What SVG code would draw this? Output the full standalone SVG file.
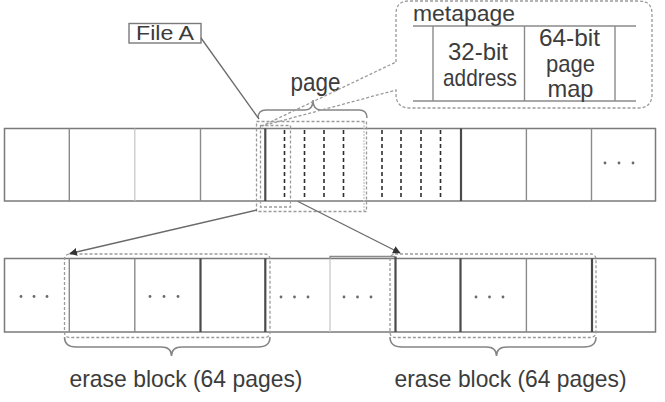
<svg xmlns="http://www.w3.org/2000/svg" width="665" height="402" viewBox="0 0 665 402">
<defs>
<style>
.t{font-family:"Liberation Sans",Arial,sans-serif;fill:#3c3c3c}
.cell{fill:#fff;stroke:#7a7a7a;stroke-width:1.5}
.div{stroke:#8a8a8a;stroke-width:1.4}
.lt{stroke:#c4c4c4;stroke-width:1.2}
.thk{stroke:#4a4a4a;stroke-width:2.2}
.pg{stroke:#2e2e2e;stroke-width:1.6;stroke-dasharray:4 3}
.dsh{fill:none;stroke:#9a9a9a;stroke-width:1.3;stroke-dasharray:3 2}
.br{fill:none;stroke:#858585;stroke-width:1.5}
.ln{stroke:#6a6a6a;stroke-width:1.3;fill:none}
.dot{fill:#6a6a6a}
</style>
<marker id="ah" viewBox="0 0 10 10" refX="9" refY="5" markerWidth="6" markerHeight="6" orient="auto">
<path d="M0,0 L10,5 L0,10 z" fill="#333"/>
</marker>
</defs>
<rect width="665" height="402" fill="#fff"/>

<g id="file-a">
<rect x="129" y="23.5" width="72" height="19.5" fill="#fff" stroke="#7a7a7a" stroke-width="1.4"/>
<text class="t" x="136" y="40" font-size="21" textLength="58" lengthAdjust="spacingAndGlyphs">File A</text>
</g>

<g id="page-label">
<path class="br" d="M258,118 Q258,110 266,110 H305 Q313,110 313,100 Q313,110 321,110 H359 Q367,110 367,118"/>
<text class="t" x="290.5" y="91" font-size="25" textLength="50" lengthAdjust="spacingAndGlyphs">page</text>
</g>

<g id="metapage">
<line class="div" x1="413" y1="26" x2="636" y2="26"/>
<line class="div" x1="413" y1="101" x2="636" y2="101"/>
<line class="div" x1="433" y1="26" x2="433" y2="101"/>
<line class="div" x1="524.5" y1="26" x2="524.5" y2="101"/>
<line class="div" x1="615" y1="26" x2="615" y2="101"/>
<text class="t" x="413" y="20.5" font-size="22" textLength="102" lengthAdjust="spacingAndGlyphs">metapage</text>
<text class="t" x="478" y="60" font-size="24" text-anchor="middle" textLength="60" lengthAdjust="spacingAndGlyphs">32-bit</text>
<text class="t" x="480" y="85.5" font-size="24" text-anchor="middle" textLength="74" lengthAdjust="spacingAndGlyphs">address</text>
<text class="t" x="569.5" y="45.5" font-size="24" text-anchor="middle" textLength="61" lengthAdjust="spacingAndGlyphs">64-bit</text>
<text class="t" x="570.5" y="72" font-size="24" text-anchor="middle" textLength="49" lengthAdjust="spacingAndGlyphs">page</text>
<text class="t" x="570.5" y="97" font-size="24" text-anchor="middle" textLength="46" lengthAdjust="spacingAndGlyphs">map</text>
</g>

<g id="top-row">
<rect class="cell" x="4.5" y="128.5" width="651" height="72.5"/>
<line class="div" x1="69.3" y1="128.5" x2="69.3" y2="201"/>
<line class="lt" x1="134.8" y1="128.5" x2="134.8" y2="201"/>
<line class="div" x1="200.5" y1="128.5" x2="200.5" y2="201"/>
<line class="thk" x1="265.3" y1="128.5" x2="265.3" y2="201"/>
<line class="thk" x1="461" y1="128.5" x2="461" y2="201"/>
<line class="div" x1="526.4" y1="128.5" x2="526.4" y2="201"/>
<line class="div" x1="591.5" y1="128.5" x2="591.5" y2="201"/>
<line class="pg" x1="284.5" y1="130" x2="284.5" y2="200"/>
<line class="pg" x1="304.5" y1="130" x2="304.5" y2="200"/>
<line class="pg" x1="324" y1="130" x2="324" y2="200"/>
<line class="pg" x1="343.5" y1="130" x2="343.5" y2="200"/>
<line class="lt" x1="364" y1="122" x2="364" y2="211" stroke-dasharray="2 1"/>
<line class="pg" x1="382" y1="130" x2="382" y2="200"/>
<line class="pg" x1="401" y1="130" x2="401" y2="200"/>
<line class="pg" x1="421" y1="130" x2="421" y2="200"/>
<line class="pg" x1="440.5" y1="130" x2="440.5" y2="200"/>
<circle class="dot" cx="605" cy="163" r="1.4"/>
<circle class="dot" cx="619" cy="163" r="1.4"/>
<circle class="dot" cx="633" cy="163" r="1.4"/>
<rect class="dsh" x="256.5" y="121.5" width="110" height="90"/>
<rect class="dsh" x="260.5" y="125.5" width="30" height="81.5"/>
</g>

<g id="bottom-row">
<rect class="cell" x="4.5" y="258.5" width="651" height="73.5"/>
<path d="M330,258.5 V256.5 H395" fill="none" stroke="#8a8a8a" stroke-width="1.3"/>
<line class="div" x1="69.3" y1="258.5" x2="69.3" y2="332"/>
<line class="div" x1="134.8" y1="258.5" x2="134.8" y2="332"/>
<line class="thk" x1="200.5" y1="258.5" x2="200.5" y2="332" stroke-width="1.8"/>
<line class="thk" x1="265.3" y1="258.5" x2="265.3" y2="332"/>
<line class="lt" x1="330" y1="258.5" x2="330" y2="332"/>
<line class="thk" x1="395.5" y1="256.5" x2="395.5" y2="332"/>
<line class="thk" x1="460.5" y1="258.5" x2="460.5" y2="332" stroke-width="1.8"/>
<line class="div" x1="526.4" y1="258.5" x2="526.4" y2="332"/>
<line class="thk" x1="592" y1="258.5" x2="592" y2="332" stroke-width="1.8"/>
<circle class="dot" cx="21" cy="296.5" r="1.4"/>
<circle class="dot" cx="34" cy="296.5" r="1.4"/>
<circle class="dot" cx="47" cy="296.5" r="1.4"/>
<circle class="dot" cx="150" cy="296.5" r="1.4"/>
<circle class="dot" cx="164" cy="296.5" r="1.4"/>
<circle class="dot" cx="178" cy="296.5" r="1.4"/>
<circle class="dot" cx="281" cy="297" r="1.4"/>
<circle class="dot" cx="294.5" cy="297" r="1.4"/>
<circle class="dot" cx="308" cy="297" r="1.4"/>
<circle class="dot" cx="344" cy="297" r="1.4"/>
<circle class="dot" cx="357.5" cy="297" r="1.4"/>
<circle class="dot" cx="371" cy="297" r="1.4"/>
<circle class="dot" cx="476" cy="297" r="1.4"/>
<circle class="dot" cx="489.5" cy="297" r="1.4"/>
<circle class="dot" cx="503" cy="297" r="1.4"/>
</g>

<g id="erase-block-1">
<rect class="dsh" x="64.5" y="254" width="205.5" height="83.5" rx="5"/>
<path class="br" d="M64.5,337 Q64.5,347 76,347 H161 Q171.5,347 171.5,356 Q171.5,347 182,347 H258 Q270,347 270,337"/>
<text class="t" x="186" y="386.5" font-size="24" text-anchor="middle" textLength="233" lengthAdjust="spacingAndGlyphs">erase block (64 pages)</text>
</g>

<g id="erase-block-2">
<rect class="dsh" x="390" y="254" width="206" height="83.5" rx="5"/>
<path class="br" d="M390,337 Q390,347 402,347 H486 Q496.5,347 496.5,356 Q496.5,347 507,347 H584 Q596,347 596,337"/>
<text class="t" x="510.5" y="386.5" font-size="24" text-anchor="middle" textLength="232" lengthAdjust="spacingAndGlyphs">erase block (64 pages)</text>
</g>

<g id="connectors">
<path class="dsh" d="M396,62 V14 Q396,1 409,1 H639 Q652,1 652,14 V94 Q652,108 638,108 H410 Q396,108 396,94 V90 L262,126 Z"/>
<line class="ln" x1="201" y1="38" x2="259" y2="119"/>
<line class="ln" x1="257" y1="210" x2="70" y2="253.5" marker-end="url(#ah)"/>
<line class="ln" x1="298" y1="201.5" x2="400" y2="253" marker-end="url(#ah)"/>
</g>
</svg>
